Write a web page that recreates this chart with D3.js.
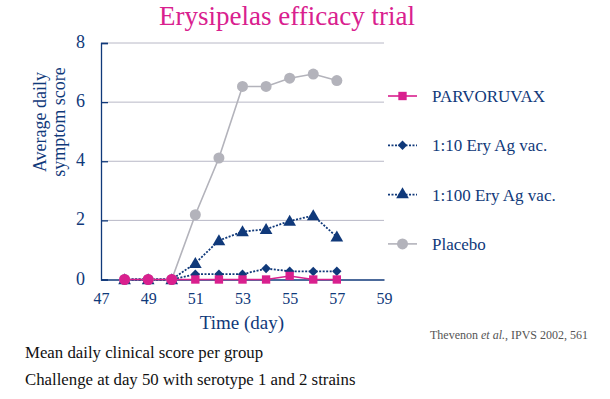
<!DOCTYPE html>
<html>
<head>
<meta charset="utf-8">
<script src="https://cdn.jsdelivr.net/npm/d3@7"></script>
<style>
  body { margin: 0; background: #fff; }
</style>
</head>
<body>
<div id="vis"></div>
<script>
var width = 610, height = 399;
var navy = "#10397a", pink = "#d9208e", grey = "#b3b3bb";
var serif = "'Liberation Serif'";

// data
var days = [48, 49, 50, 51, 52, 53, 54, 55, 56, 57];
var parvoruvax = [0, 0, 0, 0, 0, 0, 0, 0.12, 0, 0];
var ery10 = [0, 0, 0, 0.18, 0.18, 0.18, 0.37, 0.28, 0.27, 0.28];
var ery100 = [0, 0, 0, 0.55, 1.32, 1.62, 1.7, 1.98, 2.16, 1.44];
var placebo = [0, 0, 0, 2.19, 4.11, 6.53, 6.53, 6.81, 6.95, 6.73];
var seriesNames = ["PARVORUVAX", "1:10 Ery Ag vac.", "1:100 Ery Ag vac.", "Placebo"];
var xTicks = [47, 49, 51, 53, 55, 57, 59];
var yTicks = [0, 2, 4, 6, 8];
var challengeDay = 50;

// diamond = square turned 45 degrees
var series = [
  { name: seriesNames[3], values: placebo, color: grey, dash: null, shape: d3.symbolCircle, size: 95, rot: 0 },
  { name: seriesNames[2], values: ery100, color: navy, dash: "2,1.5", shape: d3.symbolTriangle, size: 70, rot: 0 },
  { name: seriesNames[1], values: ery10, color: navy, dash: "2,1.5", shape: d3.symbolSquare, size: 44, rot: 45 },
  { name: seriesNames[0], values: parvoruvax, color: pink, dash: null, shape: d3.symbolSquare, size: 70, rot: 0 }
];

var svg = d3.select("#vis").append("svg")
  .attr("width", width)
  .attr("height", height);

var x = d3.scaleLinear().domain([47, 59]).range([101, 384]);
var y = d3.scaleLinear().domain([0, 8]).range([279.5, 43]);

function serifText(sel, size) {
  return sel.style("font-family", serif).style("font-size", size + "px");
}

// gridlines
svg.append("g").selectAll("line")
  .data(yTicks.slice(1))
  .enter().append("line")
  .attr("x1", x(47)).attr("x2", x(59))
  .attr("y1", d => y(d)).attr("y2", d => y(d))
  .style("stroke", "#b8b8c6").style("stroke-width", 1);

// y axis
var yAxis = svg.append("g")
  .attr("transform", "translate(" + x(47) + ",0)")
  .call(d3.axisLeft(y).tickValues(yTicks).tickSize(-7).tickPadding(16));
yAxis.attr("font-family", null);
yAxis.select(".domain").attr("stroke", navy).attr("stroke-width", 1.3);
yAxis.selectAll(".tick line").attr("stroke", navy).attr("stroke-width", 1.3);
serifText(yAxis.selectAll("text"), 18).attr("fill", navy).attr("dy", "0.25em");

// x axis
var xAxis = svg.append("g")
  .attr("transform", "translate(0," + y(0) + ")")
  .call(d3.axisBottom(x).tickValues(xTicks).tickSize(0).tickPadding(13).tickSizeOuter(0));
xAxis.attr("font-family", null);
xAxis.select(".domain").attr("stroke", navy).attr("stroke-width", 1.3);
serifText(xAxis.selectAll("text"), 16).attr("fill", navy);

// lines and markers
var line = d3.line().x((d, i) => x(days[i])).y(d => y(d));
series.forEach(s => {
  svg.append("path")
    .datum(s.values)
    .attr("d", line)
    .attr("fill", "none")
    .attr("stroke", s.color)
    .attr("stroke-width", s.dash ? 1.8 : 1.6)
    .attr("stroke-dasharray", s.dash);
});
series.forEach(s => {
  svg.append("g").selectAll("path")
    .data(s.values)
    .enter().append("path")
    .attr("transform", (d, i) => "translate(" + x(days[i]) + "," + (y(d) + (s.shape === d3.symbolTriangle ? 1 : 0)) + ") rotate(" + s.rot + ")")
    .attr("d", (d, i) => {
      // pink covers the shared zero points before the challenge
      if (s.values === parvoruvax && days[i] <= challengeDay) return d3.symbol(d3.symbolCircle, 95)();
      return d3.symbol(s.shape, s.size)();
    })
    .attr("fill", s.color);
});

// legend
var legend = svg.append("g").selectAll("g")
  .data(series.slice().reverse())
  .enter().append("g")
  .attr("transform", (d, i) => "translate(388," + (96 + i * 49.3) + ")");
legend.append("line")
  .attr("x1", 0).attr("x2", 29)
  .attr("stroke", d => d.color)
  .attr("stroke-width", d => d.dash ? 1.8 : 1.6)
  .attr("stroke-dasharray", d => d.dash);
legend.append("path")
  .attr("transform", d => "translate(14.5,0) rotate(" + d.rot + ")")
  .attr("d", d => d3.symbol(d.shape, d.size)())
  .attr("fill", d => d.color);
serifText(legend.append("text"), 17)
  .attr("x", 44).attr("y", 6)
  .attr("fill", navy)
  .text(d => d.name);

// titles
serifText(svg.append("text"), 27)
  .attr("x", 287).attr("y", 25)
  .attr("text-anchor", "middle")
  .attr("fill", pink)
  .text("Erysipelas efficacy trial");

serifText(svg.append("text"), 18)
  .attr("transform", "translate(46,122) rotate(-90)")
  .attr("text-anchor", "middle")
  .attr("fill", navy)
  .selectAll("tspan")
  .data(["Average daily", "symptom score"])
  .enter().append("tspan")
  .attr("x", 0)
  .attr("dy", (d, i) => i ? "1.05em" : 0)
  .text(d => d);

serifText(svg.append("text"), 19)
  .attr("x", 242).attr("y", 329)
  .attr("text-anchor", "middle")
  .attr("fill", navy)
  .text("Time (day)");

var cite = serifText(svg.append("text"), 12)
  .attr("x", 588).attr("y", 339)
  .attr("text-anchor", "end")
  .attr("fill", "#555");
cite.append("tspan").text("Thevenon ");
cite.append("tspan").style("font-style", "italic").text("et al.");
cite.append("tspan").text(", IPVS 2002, 561");

serifText(svg.append("g").selectAll("text")
  .data(["Mean daily clinical score per group", "Challenge at day 50 with serotype 1 and 2 strains"])
  .enter().append("text"), 16.8)
  .attr("x", 25).attr("y", (d, i) => 358 + i * 27)
  .attr("fill", "#111")
  .text(d => d);
</script>
</body>
</html>
